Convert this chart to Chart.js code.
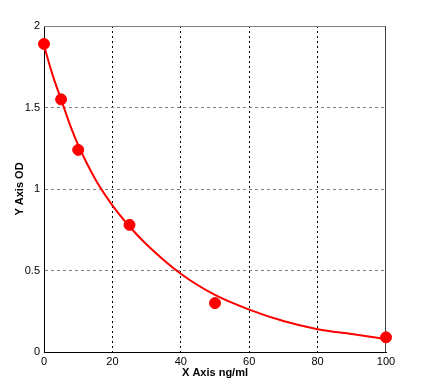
<!DOCTYPE html>
<html>
<head>
<meta charset="utf-8">
<script src="https://cdn.jsdelivr.net/npm/chart.js@4/dist/chart.umd.min.js"></script>
<style>
  html, body { margin: 0; padding: 0; background: #fff; }
  #wrap { width: 429px; height: 390px; }
</style>
</head>
<body>
<div id="wrap"><canvas id="c" width="429" height="390"></canvas></div>
<script>
// standard points (concentration ng/ml, OD)
const stdX = [0, 5, 10, 25, 50, 100];
const stdY = [1.89, 1.55, 1.24, 0.78, 0.30, 0.09];

// fitted curve
const fitX = [0, 2.5, 5, 7.5, 10, 15, 20, 25, 30, 40, 50, 60, 70, 80, 90, 100];
const fitY = [1.88, 1.70, 1.55, 1.40, 1.27, 1.06, 0.90, 0.77, 0.66, 0.48, 0.35, 0.26, 0.19, 0.14, 0.11, 0.08];

const xTicks = [0, 20, 40, 60, 80, 100];
const yTicks = [0, 0.5, 1, 1.5, 2];

const RED = '#ff0000';
const TICK_FONT = { family: 'Liberation Sans, Arial, sans-serif', size: 11 };
const TITLE_FONT = { family: 'Liberation Sans, Arial, sans-serif', size: 11, weight: 'bold' };

const framePlugin = {
    id: 'frame',
    beforeDatasetsDraw(chart) {
        const { left, right, top, bottom } = chart.chartArea;
        const ctx = chart.ctx;
        ctx.save();
        ctx.lineWidth = 1;
        ctx.strokeStyle = '#808080';
        ctx.beginPath();
        ctx.moveTo(left, top + 0.5);
        ctx.lineTo(right, top + 0.5);
        ctx.stroke();
        ctx.strokeStyle = '#404040';
        ctx.beginPath();
        ctx.moveTo(right - 0.5, top);
        ctx.lineTo(right - 0.5, bottom);
        ctx.stroke();
        ctx.restore();
    }
};

new Chart(document.getElementById('c').getContext('2d'), {
    type: 'scatter',
    data: {
        datasets: [{
            label: 'fit',
            type: 'line',
            data: fitX.map((x, i) => ({ x, y: fitY[i] })),
            borderColor: RED,
            borderWidth: 2,
            pointRadius: 0,
            fill: false,
            cubicInterpolationMode: 'monotone'
        }, {
            label: 'std',
            data: stdX.map((x, i) => ({ x, y: stdY[i] })),
            backgroundColor: RED,
            borderColor: RED,
            pointRadius: 5.5,
            pointHoverRadius: 5.5,
            clip: false
        }]
    },
    plugins: [framePlugin],
    options: {
        responsive: false,
        animation: false,
        events: [],
        layout: { padding: { left: 0, right: 43, top: 26, bottom: 0 } },
        plugins: { legend: { display: false }, tooltip: { enabled: false } },
        scales: {
            x: {
                type: 'linear',
                min: 0, max: 100,
                afterBuildTicks: (s) => { s.ticks = xTicks.map(v => ({ value: v })); },
                afterFit: (s) => { s.height = 38; },
                grid: {
                    drawTicks: false,
                    color: (c) => (c.tick && (c.tick.value === 0 || c.tick.value === 100)) ? 'rgba(0,0,0,0)' : '#000',
                    lineWidth: 1
                },
                border: { display: true, color: '#000', width: 1, dash: [2, 3] },
                ticks: { color: '#000', font: TICK_FONT, padding: 3, maxRotation: 0, callback: (v) => String(v) },
                title: { display: true, text: 'X Axis ng/ml', color: '#000', font: TITLE_FONT, padding: { top: 0, bottom: 10 } }
            },
            y: {
                type: 'linear',
                min: 0, max: 2,
                afterBuildTicks: (s) => { s.ticks = yTicks.map(v => ({ value: v })); },
                afterFit: (s) => { s.width = 44; },
                grid: {
                    drawTicks: false,
                    color: (c) => (c.tick && (c.tick.value === 0 || c.tick.value === 2)) ? 'rgba(0,0,0,0)' : '#808080',
                    lineWidth: 1
                },
                border: { display: true, color: '#000', width: 1, dash: [3, 3] },
                ticks: { color: '#000', font: TICK_FONT, padding: 4, callback: (v) => String(v) },
                title: { display: true, text: 'Y Axis OD', color: '#000', font: TITLE_FONT, padding: { top: 13, bottom: 0 } }
            }
        }
    }
});
</script>
</body>
</html>
